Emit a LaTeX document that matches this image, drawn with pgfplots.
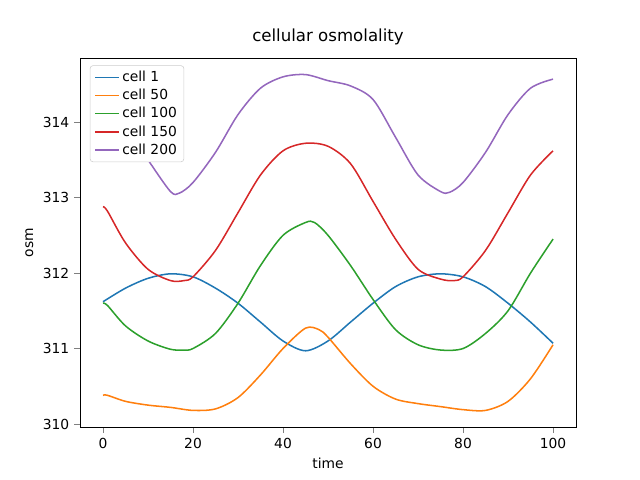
\documentclass[border=0pt]{standalone}
\usepackage{pgfplots}
\pgfplotsset{compat=1.18}
\usepackage{fontspec}
\setmainfont{DejaVu Sans}
\definecolor{c1}{HTML}{1F77B4}
\definecolor{c2}{HTML}{FF7F0E}
\definecolor{c3}{HTML}{2CA02C}
\definecolor{c4}{HTML}{D62728}
\definecolor{c5}{HTML}{9467BD}
\begin{document}
\begin{tikzpicture}
\begin{axis}[scale only axis, width=4.96in, height=3.69in,
 xmin=-5.11, xmax=105.1, ymin=309.96, ymax=314.85,
 xtick={0,20,40,60,80,100}, ytick={310,311,312,313,314},
 tick align=outside, xtick pos=bottom, ytick pos=left,
 /pgf/number format/assume math mode=true,
 ticklabel style={font=\fontsize{10}{12}\selectfont},
 yticklabel style={/pgf/number format/.cd, fixed, 1000 sep={}},
 title={cellular osmolality}, title style={font=\fontsize{12}{14}\selectfont},
 xlabel={time}, ylabel={osm},
 label style={font=\fontsize{10}{12}\selectfont},
 legend pos=north west,
 legend style={font=\fontsize{10}{12}\selectfont, draw=black!20, rounded corners=2pt, at={(0.02,0.98)}},
 legend cell align=left,
 every axis plot/.append style={line width=1.1pt, smooth, no markers, tension=0.5},
]
\addplot[c1] coordinates {(0,311.62)(5,311.8)(10,311.93)(15,311.99)(20,311.95)(25,311.8)(30,311.6)(35,311.35)(40,311.1)(45,310.97)(50,311.1)(55,311.35)(60,311.6)(65,311.82)(70,311.95)(75,311.99)(80,311.95)(85,311.82)(90,311.6)(95,311.35)(100,311.07)};
\addlegendentry{cell 1}
\addplot[c2] coordinates {(0,310.38)(1,310.38)(5,310.3)(10,310.25)(15,310.22)(20,310.18)(25,310.2)(30,310.35)(35,310.65)(40,311.0)(45,311.27)(48,311.25)(50,311.15)(55,310.8)(60,310.5)(65,310.33)(70,310.27)(75,310.23)(80,310.19)(85,310.18)(90,310.3)(95,310.6)(100,311.05)};
\addlegendentry{cell 50}
\addplot[c3] coordinates {(0,311.6)(1,311.57)(5,311.3)(10,311.1)(15,310.99)(18,310.98)(20,311.0)(25,311.2)(30,311.6)(35,312.1)(40,312.5)(45,312.67)(47,312.67)(50,312.5)(55,312.1)(60,311.65)(65,311.25)(70,311.05)(75,310.98)(80,311.0)(85,311.2)(90,311.5)(95,312.0)(100,312.45)};
\addlegendentry{cell 100}
\addplot[c4] coordinates {(0,312.88)(1,312.82)(5,312.4)(10,312.05)(15,311.9)(18,311.9)(20,311.95)(25,312.3)(30,312.8)(35,313.3)(40,313.62)(45,313.72)(50,313.68)(55,313.45)(60,312.95)(65,312.45)(70,312.05)(75,311.92)(78,311.9)(80,311.95)(85,312.3)(90,312.8)(95,313.3)(100,313.62)};
\addlegendentry{cell 150}
\addplot[c5] coordinates {(0,314.15)(5,313.95)(10,313.5)(15,313.08)(17,313.06)(20,313.2)(25,313.6)(30,314.1)(35,314.45)(40,314.6)(45,314.63)(50,314.55)(55,314.48)(60,314.3)(65,313.8)(70,313.3)(75,313.08)(77,313.07)(80,313.2)(85,313.6)(90,314.1)(95,314.45)(100,314.57)};
\addlegendentry{cell 200}
\end{axis}
\useasboundingbox ([shift={(-0.8in,-0.53in)}]current axis.south west) rectangle ([shift={(0.64in,0.58in)}]current axis.north east);
\end{tikzpicture}
\end{document}
